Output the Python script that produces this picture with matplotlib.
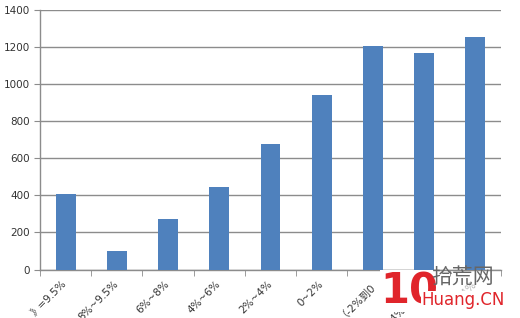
import numpy as np
import matplotlib
matplotlib.use("Agg")
import matplotlib.pyplot as plt

plt.rcParams['font.family'] = ['DejaVu Sans', 'Noto Sans CJK SC']

# 涨跌幅区间 与 家数
categories = ["》=9.5%", "8%~9.5%", "6%~8%", "4%~6%", "2%~4%", "0~2%",
              "（-2%到0", "（-4%到-2%", "<-4%"]
counts = [406, 100, 270, 445, 678, 942, 1208, 1167, 1257]
yticks = [0, 200, 400, 600, 800, 1000, 1200, 1400]

fig = plt.figure(figsize=(5.2, 3.18), dpi=100)
ax = fig.add_axes([40 / 520, 1 - 269.5 / 318, 461 / 520, 259.5 / 318])

x = np.arange(len(categories))
ax.bar(x, counts, width=0.39, color='#4f81bd', zorder=3)

ax.set_xlim(-0.5, len(categories) - 0.5)
ax.set_ylim(0, 1400)
ax.set_yticks(yticks)
ax.yaxis.grid(True, color='#8c8c8c', linewidth=1.0, zorder=0)

for s in ['top', 'right']:
    ax.spines[s].set_visible(False)
for s in ['left', 'bottom']:
    ax.spines[s].set_color('#8c8c8c')
    ax.spines[s].set_linewidth(1.0)

ax.tick_params(axis='y', direction='out', length=4, color='#8c8c8c',
               labelsize=7.5, labelcolor='#333333', pad=3)
# category labels at centres, tick marks at boundaries
ax.set_xticks(x)
ax.set_xticklabels(categories, rotation=45, ha='right', va='center',
                   rotation_mode='anchor', fontsize=7.5, color='#333333')
ax.tick_params(axis='x', length=0, pad=9)
ax.set_xticks(np.arange(len(categories) + 1) - 0.5, minor=True)
ax.tick_params(axis='x', which='minor', direction='out', length=4, color='#8c8c8c')
# last label sits under the watermark in the original
ax.get_xticklabels()[-1].set_alpha(0.35)

# watermark
fig.text(380 / 520, 1 - 291 / 318, "10", color='#e0252b', fontsize=30,
         fontweight='bold', ha='left', va='center',
         bbox=dict(facecolor='white', edgecolor='none', pad=0))
fig.text(431 / 520, 1 - 277 / 318, "拾荒网", color='#666666', fontsize=15,
         family=['Noto Sans CJK SC'], ha='left', va='center')
fig.text(421 / 520, 1 - 300 / 318, "Huang.CN", color='#e0252b', fontsize=12,
         ha='left', va='center',
         bbox=dict(facecolor='white', edgecolor='none', pad=0))

fig.savefig("out.png", dpi=100)
